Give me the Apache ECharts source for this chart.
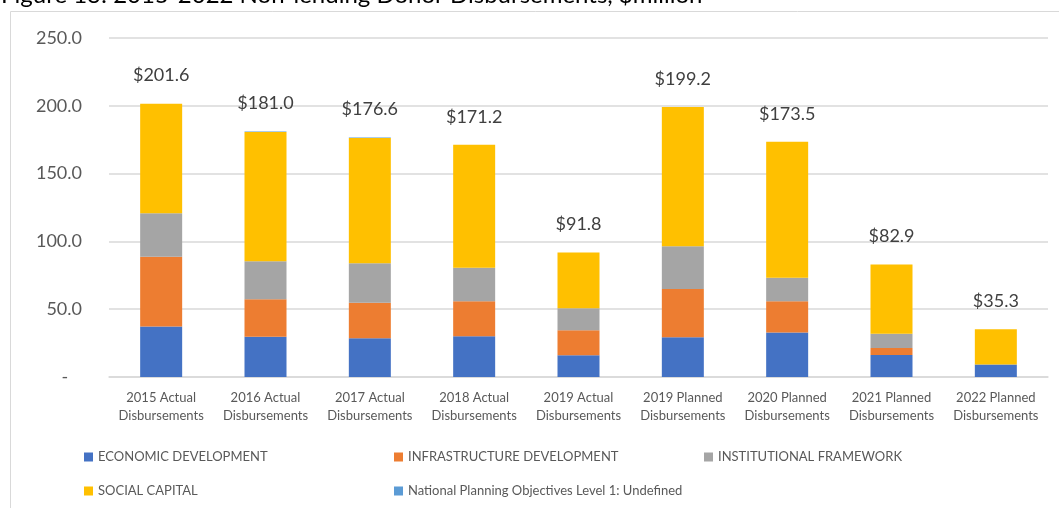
<!DOCTYPE html>
<html><head><meta charset="utf-8">
<script src="https://cdn.jsdelivr.net/npm/echarts@6/dist/echarts.min.js"></script>
<style>html,body{margin:0;padding:0;background:#fff}#c{width:1059px;height:508px}</style>
</head><body><div id="c"></div>
<script>
const categories = ['2015 Actual\nDisbursements','2016 Actual\nDisbursements','2017 Actual\nDisbursements','2018 Actual\nDisbursements','2019 Actual\nDisbursements','2019 Planned\nDisbursements','2020 Planned\nDisbursements','2021 Planned\nDisbursements','2022 Planned\nDisbursements'];
const economic       = [37.3, 29.7, 28.5, 30.0, 16.0, 29.3, 32.9, 16.2, 9.3];
const infrastructure = [51.3, 27.6, 26.3, 25.8, 18.4, 35.6, 22.9, 5.2, 0];
const institutional  = [32.2, 28.0, 29.0, 24.8, 16.3, 31.5, 17.4, 10.5, 0];
const social         = [80.8, 95.4, 92.5, 90.6, 41.1, 102.8, 100.3, 51.0, 26.0];
const undefinedObj   = [0, 0.3, 0.3, 0, 0, 0, 0, 0, 0];
const totals         = [201.6, 181.0, 176.6, 171.2, 91.8, 199.2, 173.5, 82.9, 35.3];
const yTicks = [0, 50, 100, 150, 200, 250];
const title = 'Figure 13: 2015-2022 Non-lending Donor Disbursements, $million';

const FONT = 'Lato';
const names = ['ECONOMIC DEVELOPMENT','INFRASTRUCTURE DEVELOPMENT','INSTITUTIONAL FRAMEWORK','SOCIAL CAPITAL','National Planning Objectives Level 1: Undefined'];
const colors = ['#4472C4','#ED7D31','#A5A5A5','#FFC000','#5B9BD5'];
const values = [economic, infrastructure, institutional, social, undefinedObj];
const legendPos = [[84,450],[394,450],[704,450],[84,484],[394,484]];

const chart = echarts.init(document.getElementById('c'), null, {renderer:'canvas'});
const series = names.map((n,i)=>({
  name:n, type:'bar', stack:'total', data:values[i], barWidth:42,
  itemStyle:{color:colors[i]}, emphasis:{disabled:true}
}));
series.push({
  name:'Total', type:'bar', data:totals, barWidth:42, barGap:'-100%',
  itemStyle:{color:'transparent'}, silent:true, z:1,
  label:{show:true, position:'top', distance:19, fontFamily:FONT, fontSize:18, color:'#404040',
    formatter:p=>'$'+p.value.toFixed(1)}
});
chart.setOption({
  animation:false,
  textStyle:{fontFamily:FONT},
  grid:{left:109, right:11, top:38, bottom:131, containLabel:false},
  graphic:[
    {type:'rect', shape:{x:10.5,y:11.5,width:1100,height:600}, style:{fill:'none',stroke:'#d9d9d9',lineWidth:1}, z:-10},
    {type:'text', left:1, top:-17, style:{text:title, fontFamily:FONT, fontSize:24, fill:'#000'}}
  ],
  legend: names.map((n,i)=>({
    data:[n], left:legendPos[i][0], top:legendPos[i][1], padding:0, itemWidth:9, itemHeight:9, itemGap:0,
    icon:'rect', selectedMode:false,
    textStyle:{fontFamily:FONT, fontSize:13, color:'#595959', lineHeight:14}
  })),
  xAxis:{type:'category', data:categories,
    axisLine:{lineStyle:{color:'#d9d9d9', width:1.5}}, axisTick:{show:false},
    axisLabel:{fontFamily:FONT, fontSize:13, color:'#595959', lineHeight:18, margin:12, interval:0}},
  yAxis:{type:'value', min:yTicks[0], max:yTicks[yTicks.length-1], interval:50,
    axisLine:{show:false}, axisTick:{show:false},
    splitLine:{lineStyle:{color:'#d9d9d9', width:1.5}},
    axisLabel:{fontFamily:FONT, fontSize:18, color:'#595959', margin:27,
      formatter:v=> v===0 ? '-   ' : v.toFixed(1)}},
  series:series
});
</script></body></html>
